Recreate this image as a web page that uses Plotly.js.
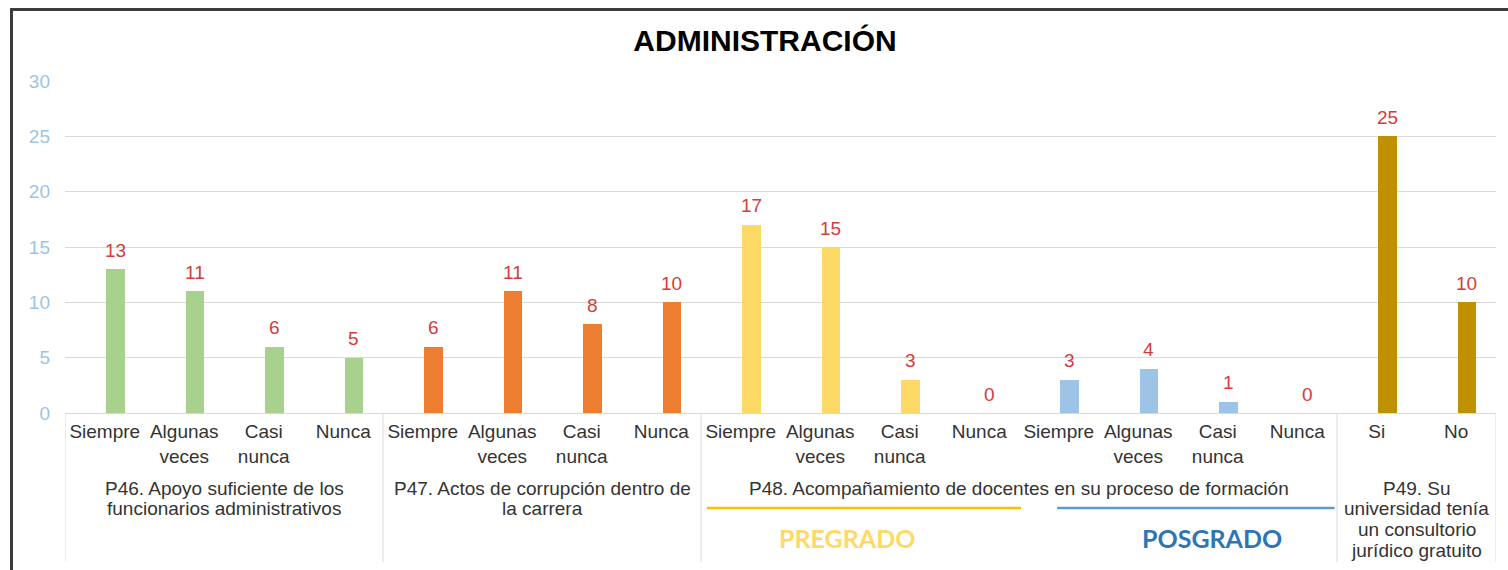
<!DOCTYPE html>
<html>
<head>
<meta charset="utf-8">
<script src="https://cdn.plot.ly/plotly-3.0.1.min.js"></script>
<style>
  html, body { margin: 0; padding: 0; background: #fff; }
  #wrap { position: relative; width: 1508px; height: 570px; }
  #chart { width: 1508px; height: 570px; }
  #frame { position: absolute; left: 10px; top: 8px; width: 1500px; height: 570px;
           border-top: 3px solid #3c3c3c; border-left: 3px solid #3c3c3c; pointer-events: none; }
</style>
</head>
<body>
<div id="wrap"><div id="chart"></div><div id="frame"></div></div>
<script>
// ---- data ----
const respuestas = ['Siempre', 'Algunas<br>veces', 'Casi<br>nunca', 'Nunca'];
const respuestasSiNo = ['Si', 'No'];
const p46 = [13, 11, 6, 5];
const p47 = [6, 11, 8, 10];
const p48Pregrado = [17, 15, 3, 0];
const p48Posgrado = [3, 4, 1, 0];
const p49 = [25, 10];
const groupLines46 = ['P46. Apoyo suficiente de los', 'funcionarios administrativos'];
const groupLines47 = ['P47. Actos de corrupción dentro de', 'la carrera'];
const groupLines48 = ['P48. Acompañamiento de docentes en su proceso de formación'];
const groupLines49 = ['P49. Su', 'universidad tenía', 'un consultorio', 'jurídico gratuito'];
const titulo = 'ADMINISTRACIÓN';

// ---- build ----
const series = [
  {vals: p46, labels: respuestas, color: '#A9D18E'},
  {vals: p47, labels: respuestas, color: '#ED7D31'},
  {vals: p48Pregrado, labels: respuestas, color: '#FFD966'},
  {vals: p48Posgrado, labels: respuestas, color: '#9DC3E6'},
  {vals: p49, labels: respuestasSiNo, color: '#BF9000'}
];
const BAR_W = 0.23, BAR_OFF = 0.02;
const traces = [];
const annotations = [];
const tickvals = [], ticktext = [];
const starts = [];
let idx = 0;
series.forEach(s => {
  starts.push(idx);
  const xs = s.vals.map((v, i) => idx + i);
  xs.forEach((x, i) => { tickvals.push(x); ticktext.push(s.labels[i]); });
  traces.push({
    type: 'bar', x: xs, y: s.vals, width: BAR_W, offset: BAR_OFF,
    marker: {color: s.color}, hoverinfo: 'x+y', showlegend: false
  });
  xs.forEach((x, i) => {
    annotations.push({
      xref: 'x', yref: 'y', x: x + BAR_OFF + BAR_W / 2, y: s.vals[i],
      text: String(s.vals[i]), showarrow: false, yanchor: 'middle', yshift: 19,
      font: {family: 'Liberation Sans, Arial', size: 19, color: '#D63B3B'}
    });
  });
  idx += s.vals.length;
});
starts.push(idx);

const labelFont = {family: 'Liberation Sans, Arial', size: 19, color: '#333333'};
function groupLabel(lines, xc) {
  lines.forEach((t, k) => annotations.push({
    xref: 'x', yref: 'paper', x: xc, y: 0, yanchor: 'middle', yshift: -(75 + 20.7 * k),
    text: t, showarrow: false, font: labelFont
  }));
}
groupLabel(groupLines46, (starts[0] + starts[1] - 1) / 2);
groupLabel(groupLines47, (starts[1] + starts[2] - 1) / 2);
groupLabel(groupLines48, (starts[2] + starts[4] - 1) / 2);
groupLabel(groupLines49, (starts[4] + starts[5] - 1) / 2);

annotations.push({xref: 'x', yref: 'paper', x: 9.34, y: 0, yanchor: 'middle', yshift: -125,
  text: '<b>PREGRADO</b>', showarrow: false,
  font: {family: 'Lato, Open Sans', size: 25, color: '#FFD966'}});
annotations.push({xref: 'x', yref: 'paper', x: 13.93, y: 0, yanchor: 'middle', yshift: -125,
  text: '<b>POSGRADO</b>', showarrow: false,
  font: {family: 'Lato, Open Sans', size: 25, color: '#2E75B6'}});

const shapes = [];
[starts[0], starts[1], starts[2], starts[4], starts[5]].forEach(s => {
  shapes.push({type: 'line', xref: 'x', yref: 'paper', x0: s - 0.5, x1: s - 0.5, y0: 0, y1: -0.449,
    line: {color: '#d9d9d9', width: 1}});
});
shapes.push({type: 'line', xref: 'x', yref: 'paper', x0: 7.575, x1: 11.525, y0: -0.286, y1: -0.286,
  line: {color: '#FFC000', width: 2.5}});
shapes.push({type: 'line', xref: 'x', yref: 'paper', x0: 11.98, x1: 15.47, y0: -0.286, y1: -0.286,
  line: {color: '#5B9BD5', width: 2.5}});

const layout = {
  width: 1508, height: 570,
  margin: {l: 65, r: 12, t: 81, b: 157},
  paper_bgcolor: '#fff', plot_bgcolor: '#fff',
  title: {text: '<b>' + titulo + '</b>', x: 0.5073, xref: 'container', y: 1 - 40 / 570, yref: 'container',
    xanchor: 'center', yanchor: 'middle',
    font: {family: 'Liberation Sans, Arial', size: 30, color: '#000'}},
  xaxis: {
    range: [-0.5, idx - 0.5], tickmode: 'array', tickvals: tickvals, ticktext: ticktext,
    showgrid: false, zeroline: false, showline: false, ticks: '',
    ticklabelstandoff: 5,
    tickfont: labelFont, fixedrange: true
  },
  yaxis: {
    range: [0, 30], dtick: 5, showgrid: true, gridcolor: '#d9d9d9', gridwidth: 1,
    zeroline: true, zerolinecolor: '#d9d9d9', zerolinewidth: 1, ticks: '',
    ticklabelstandoff: 14,
    tickfont: {family: 'Liberation Sans, Arial', size: 19, color: '#9DC3E6'}, fixedrange: true
  },
  annotations: annotations,
  shapes: shapes,
  bargap: 0
};
Plotly.newPlot('chart', traces, layout, {displayModeBar: false, staticPlot: true});
</script>
</body>
</html>
